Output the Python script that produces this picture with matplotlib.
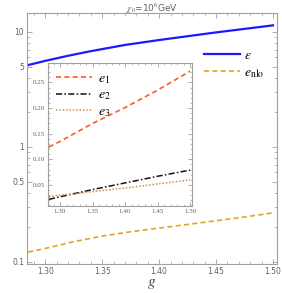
import numpy as np
import matplotlib
matplotlib.use("Agg")
import matplotlib.pyplot as plt
from matplotlib.ticker import FixedLocator, MultipleLocator, NullFormatter

# data
g = [1.285, 1.30, 1.32, 1.34, 1.37, 1.40, 1.45, 1.50]
eps = [5.15, 5.6, 6.2, 6.8, 7.7, 8.5, 9.9, 11.4]
g_nlo = [1.285, 1.30, 1.325, 1.35, 1.375, 1.40, 1.425, 1.45, 1.475, 1.50]
e_nlo = [0.122, 0.131, 0.150, 0.168, 0.183, 0.197, 0.212, 0.228, 0.246, 0.267]

g_in = [1.283, 1.30, 1.35, 1.40, 1.45, 1.50]
e1 = [0.124, 0.135, 0.170, 0.201, 0.235, 0.272]
e2 = [0.022, 0.027, 0.041, 0.054, 0.067, 0.079]
e3 = [0.027, 0.030, 0.037, 0.044, 0.052, 0.060]

plt.rcParams['mathtext.fontset'] = 'stix'
frame_c = '#a0a0a0'
lab_c = '#606060'

fig = plt.figure(figsize=(2.82, 2.93), dpi=100)

# 主图
ax = fig.add_axes([27 / 282, 29 / 293, 250 / 282, 251 / 293])
ax.plot(g, eps, color='#1a1aff', lw=1.6, label=r'$\epsilon$')
ax.plot(g_nlo, e_nlo, color='#e8a020', lw=1.2, ls=(0, (3, 2)), label=r'$e_{\mathrm{nlo}}$')
ax.set_yscale('log')
ax.set_xlim(1.284, 1.5035)
ax.set_ylim(0.096, 14.6)
ax.set_yticks([0.1, 0.5, 1, 5, 10])
ax.set_yticklabels(['0.1', '0.5', '1', '5', '10'])
ax.yaxis.set_minor_locator(FixedLocator([k * 10.0 ** p for p in (-1, 0, 1) for k in range(1, 10)]))
ax.yaxis.set_minor_formatter(NullFormatter())
ax.set_xticks([1.30, 1.35, 1.40, 1.45, 1.50])
ax.set_xticklabels(['1.30', '1.35', '1.40', '1.45', '1.50'])
ax.xaxis.set_minor_locator(MultipleLocator(0.01))
ax.tick_params(which='both', direction='in', top=True, right=True, colors=frame_c,
               labelcolor=lab_c, labelsize=5.5, pad=2)
ax.tick_params(which='major', length=3.5, width=0.6)
ax.tick_params(which='minor', length=2, width=0.5)
for s in ax.spines.values():
    s.set_color(frame_c)
    s.set_linewidth(0.8)
ax.set_xlabel(r'$g$', fontsize=11, color='#404040', labelpad=0)
# 标题
fig.text(152 / 282, 1 - 1.5 / 293, r'$\chi_0$=10$^6$GeV', fontsize=6.5, color=lab_c,
         ha='center', va='top', family='DejaVu Sans')
ax.legend(loc='upper right', bbox_to_anchor=(1.0, 0.91), frameon=False,
          fontsize=10, handlelength=2.6, handletextpad=0.3, labelspacing=0.2)

# 内嵌图
ins = fig.add_axes([48 / 282, 87 / 293, 144 / 282, 143 / 293])
ins.plot(g_in, e1, color='#ff5a1f', lw=1.2, ls=(0, (3, 2)), label=r'$e_1$')
ins.plot(g_in, e2, color='#111111', lw=1.1, ls=(0, (4, 1.5, 1, 1.5)), label=r'$e_2$')
ins.plot(g_in, e3, color='#c8905a', lw=1.1, ls=(0, (1, 1.2)), label=r'$e_3$')
ins.set_xlim(1.2815, 1.503)
ins.set_ylim(0.009, 0.288)
ins.set_xticks([1.30, 1.35, 1.40, 1.45, 1.50])
ins.set_xticklabels(['1.30', '1.35', '1.40', '1.45', '1.50'])
ins.set_yticks([0.05, 0.10, 0.15, 0.20, 0.25])
ins.set_yticklabels(['0.05', '0.10', '0.15', '0.20', '0.25'])
ins.xaxis.set_minor_locator(MultipleLocator(0.01))
ins.yaxis.set_minor_locator(MultipleLocator(0.01))
ins.tick_params(which='both', direction='in', top=True, right=True, colors=frame_c,
                labelcolor=lab_c, labelsize=5, pad=2)
for lbl in ins.get_xticklabels() + ins.get_yticklabels():
    lbl.set_family('Liberation Serif')
ins.tick_params(which='major', length=3, width=0.6)
ins.tick_params(which='minor', length=1.6, width=0.5)
for s in ins.spines.values():
    s.set_color(frame_c)
    s.set_linewidth(0.8)
ins.legend(loc='upper left', frameon=False, fontsize=10, handlelength=2.6,
           handletextpad=0.4, labelspacing=0.1, borderaxespad=0.2)

fig.savefig('out.png', dpi=100)
